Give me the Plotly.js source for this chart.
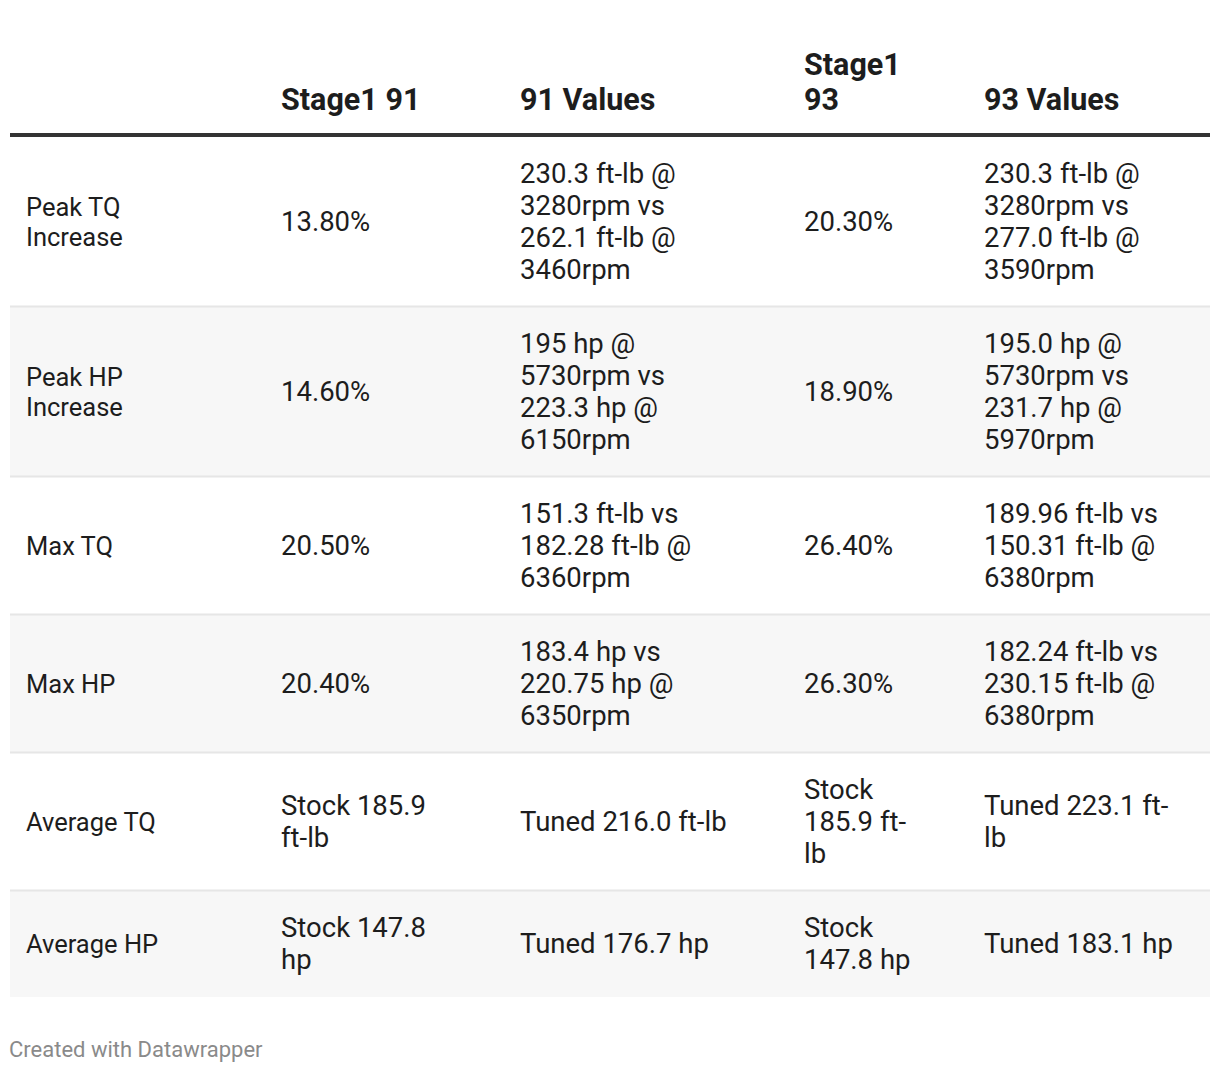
<!DOCTYPE html>
<html>
<head>
<meta charset="utf-8">
<script src="https://cdn.plot.ly/plotly-3.0.1.min.js"></script>
<style>
  html, body { margin: 0; padding: 0; background: #ffffff; }
  #chart { width: 1220px; height: 1072px; }
</style>
</head>
<body>
<div id="chart"></div>
<script>
// ---------- data (text of the table, <br> marks the visual line wraps) ----------
const headers = ["", "Stage1 91", "91 Values", "Stage1<br>93", "93 Values"];
const metrics = [
  "Peak TQ<br>Increase",
  "Peak HP<br>Increase",
  "Max TQ",
  "Max HP",
  "Average TQ",
  "Average HP"
];
const stage1_91 = ["13.80%", "14.60%", "20.50%", "20.40%", "Stock 185.9<br>ft-lb", "Stock 147.8<br>hp"];
const values_91 = [
  "230.3 ft-lb @<br>3280rpm vs<br>262.1 ft-lb @<br>3460rpm",
  "195 hp @<br>5730rpm vs<br>223.3 hp @<br>6150rpm",
  "151.3 ft-lb vs<br>182.28 ft-lb @<br>6360rpm",
  "183.4 hp vs<br>220.75 hp @<br>6350rpm",
  "Tuned 216.0 ft-lb",
  "Tuned 176.7 hp"
];
const stage1_93 = ["20.30%", "18.90%", "26.40%", "26.30%", "Stock<br>185.9 ft-<br>lb", "Stock<br>147.8 hp"];
const values_93 = [
  "230.3 ft-lb @<br>3280rpm vs<br>277.0 ft-lb @<br>3590rpm",
  "195.0 hp @<br>5730rpm vs<br>231.7 hp @<br>5970rpm",
  "189.96 ft-lb vs<br>150.31 ft-lb @<br>6380rpm",
  "182.24 ft-lb vs<br>230.15 ft-lb @<br>6380rpm",
  "Tuned 223.1 ft-<br>lb",
  "Tuned 183.1 hp"
];
const footer = "Created with Datawrapper";

// ---------- layout constants ----------
const W = 1220, H = 1072;
const COL_X = [26, 281, 520, 804, 984];
const COL_FONT_SIZE = [25.5, 27.5, 27.5, 27.5, 27.5];
const COL_PITCH = [30, 32, 32, 32, 32];
const TABLE_LEFT = 10, TABLE_RIGHT = 1210;
const LINE_PITCH = 32, ROW_PAD = 42, TEXT_SHIFT = 2.5;
const BODY_TOP = 137;
const HEADER_LAST_CENTER = 102, HEADER_PITCH = 35;
const HEADER_RULE_Y = 135;
const FONT = "Roboto, 'Open Sans', sans-serif";
const TEXT_COLOR = "#1d1d1d";

const columns = [metrics, stage1_91, values_91, stage1_93, values_93];
const nRows = metrics.length;

// row geometry derived from line counts
const rowLines = [];
for (let r = 0; r < nRows; r++) {
  let m = 1;
  columns.forEach(col => { m = Math.max(m, col[r].split("<br>").length); });
  rowLines.push(m);
}
const rowTop = [], rowH = [];
let acc = BODY_TOP;
for (let r = 0; r < nRows; r++) {
  rowTop.push(acc);
  const h = rowLines[r] * LINE_PITCH + ROW_PAD;
  rowH.push(h);
  acc += h;
}

// ---------- traces ----------
const traces = [];
columns.forEach((col, c) => {
  const xs = [], ys = [], ts = [];
  col.forEach((cell, r) => {
    const lines = cell.split("<br>");
    const center = rowTop[r] + rowH[r] / 2 + TEXT_SHIFT;
    lines.forEach((ln, i) => {
      xs.push(COL_X[c]);
      ys.push(center + (i - (lines.length - 1) / 2) * COL_PITCH[c]);
      ts.push(ln);
    });
  });
  traces.push({
    type: "scatter", mode: "text", x: xs, y: ys, text: ts,
    textposition: "middle right", cliponaxis: false, hoverinfo: "skip",
    showlegend: false,
    textfont: { family: FONT, size: COL_FONT_SIZE[c], color: TEXT_COLOR }
  });
});

// header
{
  const xs = [], ys = [], ts = [];
  headers.forEach((hd, c) => {
    if (!hd) return;
    const lines = hd.split("<br>");
    lines.forEach((ln, i) => {
      xs.push(COL_X[c]);
      ys.push(HEADER_LAST_CENTER - (lines.length - 1 - i) * HEADER_PITCH);
      ts.push(ln);
    });
  });
  traces.push({
    type: "scatter", mode: "text", x: xs, y: ys, text: ts,
    textposition: "middle right", cliponaxis: false, hoverinfo: "skip",
    showlegend: false,
    textfont: { family: FONT, size: 30.5, color: TEXT_COLOR, weight: "bold" }
  });
}

// ---------- shapes ----------
const shapes = [];
for (let r = 0; r < nRows; r++) {
  if (r % 2 === 1) {
    shapes.push({
      type: "rect", xref: "x", yref: "y", layer: "below",
      x0: TABLE_LEFT, x1: TABLE_RIGHT, y0: rowTop[r], y1: rowTop[r] + rowH[r],
      fillcolor: "#f7f7f7", line: { width: 0 }
    });
  }
  if (r > 0) {
    shapes.push({
      type: "line", xref: "x", yref: "y", layer: "below",
      x0: TABLE_LEFT, x1: TABLE_RIGHT, y0: rowTop[r] - 0.5, y1: rowTop[r] - 0.5,
      line: { color: "#e6e6e6", width: 2 }
    });
  }
}
shapes.push({
  type: "line", xref: "x", yref: "y",
  x0: TABLE_LEFT, x1: TABLE_RIGHT, y0: HEADER_RULE_Y, y1: HEADER_RULE_Y,
  line: { color: "#333333", width: 4 }
});

const layout = {
  width: W, height: H,
  margin: { l: 0, r: 0, t: 0, b: 0, pad: 0 },
  paper_bgcolor: "#ffffff", plot_bgcolor: "#ffffff",
  xaxis: { range: [0, W], visible: false, fixedrange: true, showgrid: false, zeroline: false },
  yaxis: { range: [H, 0], visible: false, fixedrange: true, showgrid: false, zeroline: false },
  shapes: shapes,
  annotations: [{
    text: footer, xref: "x", yref: "y", x: 7, y: 1049,
    xanchor: "left", yanchor: "middle", showarrow: false,
    font: { family: FONT, size: 22, color: "#8a8a8a" }
  }],
  showlegend: false,
  hovermode: false
};

Plotly.newPlot("chart", traces, layout, { staticPlot: true, displayModeBar: false });
</script>
</body>
</html>
